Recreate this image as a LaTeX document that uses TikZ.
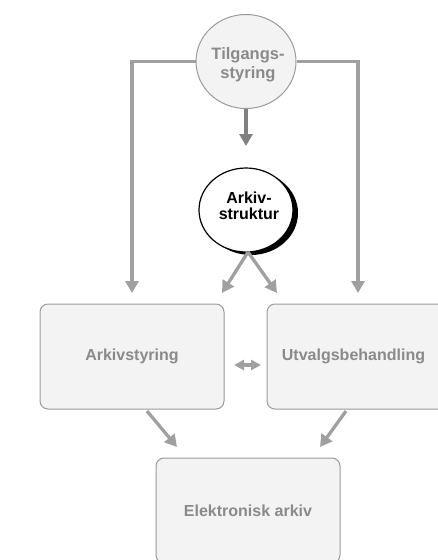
\documentclass[tikz,border=0pt]{standalone}
\usepackage{fontspec}
\setmainfont{Liberation Sans}
\usetikzlibrary{arrows.meta,shapes.geometric}
\definecolor{boxfill}{HTML}{F3F3F3}
\definecolor{boxline}{HTML}{9A9A9A}
\definecolor{linkgray}{HTML}{A0A0A0}
\definecolor{darklink}{HTML}{808080}
\definecolor{labelgray}{HTML}{8A8A8A}
\tikzset{
  procbox/.style={draw=boxline, line width=1pt, fill=boxfill, rounded corners=8pt,
    minimum width=184pt, minimum height=105pt, inner sep=0pt},
  boxlabel/.style={font=\fontsize{16}{18.5}\selectfont\bfseries, text=labelgray, inner sep=0pt},
  link/.style={draw=linkgray, line width=3.3pt, -{Triangle[length=12pt,width=13pt]}},
  darklinkstyle/.style={draw=darklink, line width=3.5pt, -{Triangle[length=12pt,width=13pt]}},
  bothlink/.style={draw=linkgray, line width=3.5pt, {Triangle[length=10pt,width=10pt]}-{Triangle[length=10pt,width=10pt]}},
}
\begin{document}
\begin{tikzpicture}[x=1pt,y=-1pt]
  \useasboundingbox (0,0) rectangle (438,560);
  \clip (0,0) rectangle (438,560);

  % access control hub
  \node[ellipse, draw=boxline, line width=1pt, fill=boxfill, minimum width=100pt,
        minimum height=94pt, inner sep=0pt] (t) at (246,61.5) {};
  \node[boxlabel, font=\fontsize{16.5}{19}\selectfont\bfseries, align=center] (ttxt) at (248,65) {Tilgangs-\\styring};

  % archive structure with dark drop shadow
  \node[ellipse, fill=black, minimum width=94pt, minimum height=84pt, inner sep=0pt]
        (sshadow) at (251,213) {};
  \node[ellipse, draw=black, line width=1.2pt, fill=white, minimum width=94pt,
        minimum height=84pt, inner sep=0pt] (s) at (246,210) {};
  \node[font=\fontsize{16}{16.5}\selectfont\bfseries, align=center, inner sep=0pt]
        (stxt) at (249,206) {Arkiv-\\struktur};

  % process boxes
  \node[procbox] (a) at (132,356.5) {};
  \node[boxlabel] (atxt) at (132,356.5) {Arkivstyring};
  \node[procbox] (u) at (359,356.5) {};
  \node[boxlabel] (utxt) at (353.5,356.5) {Utvalgsbehandling};
  \node[procbox] (e) at (248,510.5) {};
  \node[boxlabel] (etxt) at (248,510.5) {Elektronisk arkiv};

  % connector end points
  \coordinate (tl) at (132,293);
  \coordinate (tr) at (358,293);
  \coordinate (td) at (246,146);
  \coordinate (sl) at (222,293);
  \coordinate (sr) at (277,293);
  \coordinate (ab) at (147,411);
  \coordinate (ub) at (346,411);
  \coordinate (el) at (177,447);
  \coordinate (er) at (320,447);
  \coordinate (mid1) at (234,365);
  \coordinate (mid2) at (261,365);
  \coordinate (sb) at (248,252);

  % connectors
  \draw[link] (t.west) -| (tl);
  \draw[link] (t.east) -| (tr);
  \draw[darklinkstyle] (t.south) -- (td);
  \draw[link] (sb) -- (sl);
  \draw[link] (sb) -- (sr);
  \draw[bothlink] (mid1) -- (mid2);
  \draw[link] (ab) -- (el);
  \draw[link] (ub) -- (er);
\end{tikzpicture}
\end{document}
